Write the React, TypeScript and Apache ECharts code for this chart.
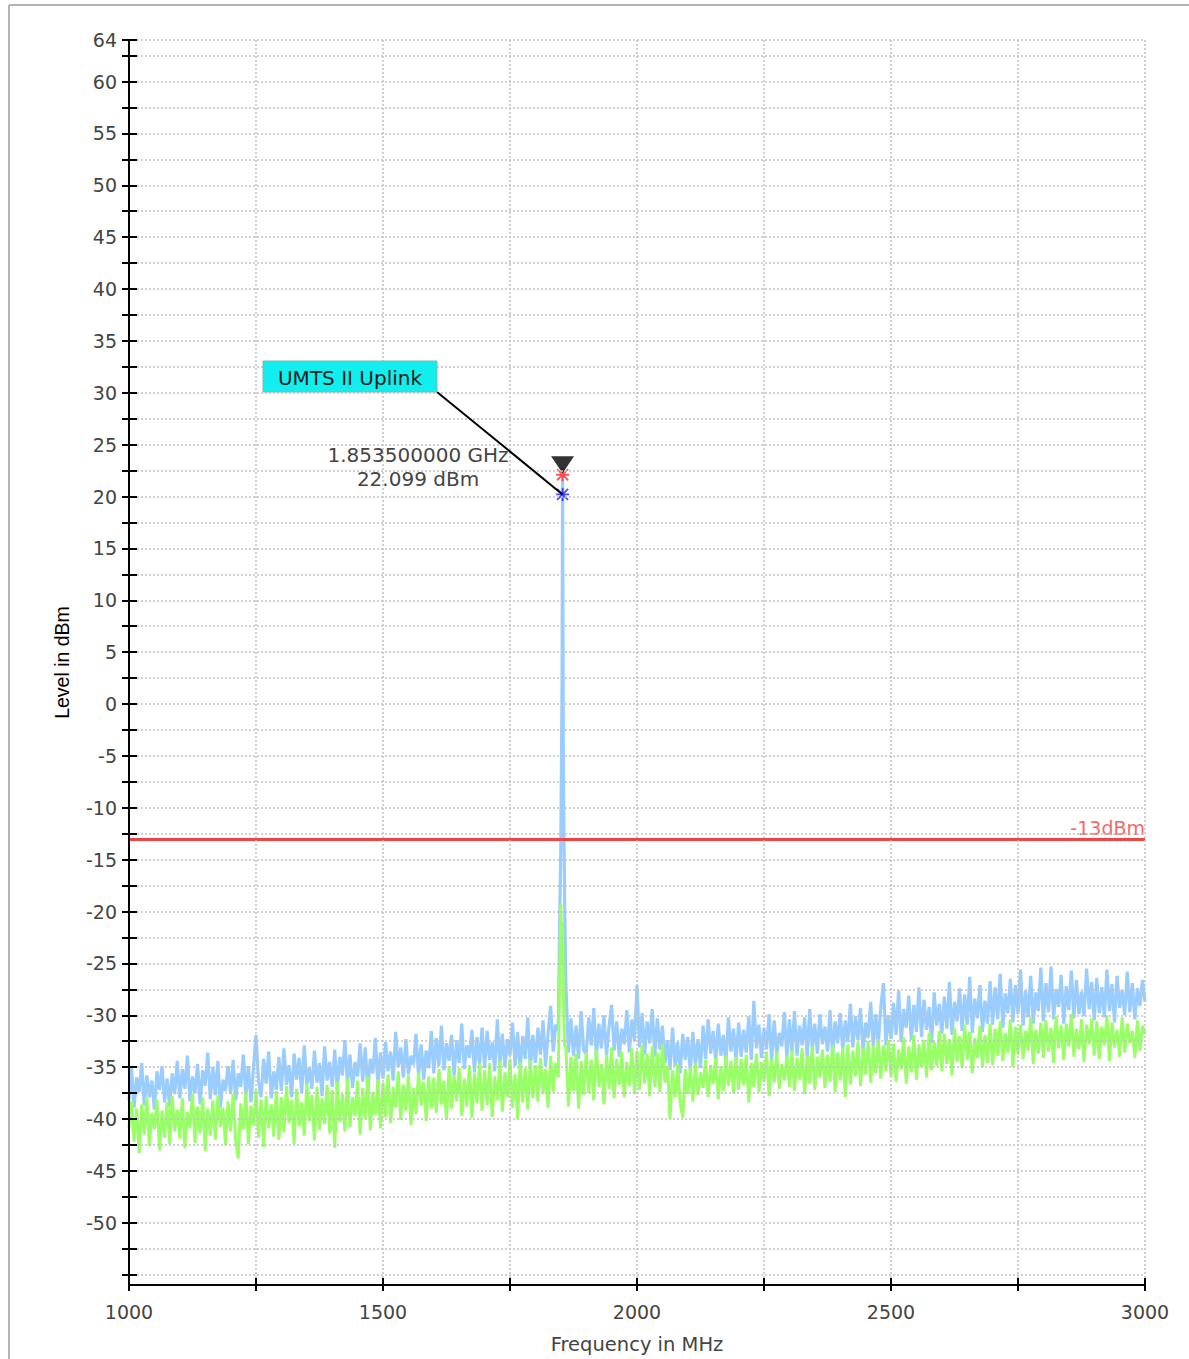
import React, { useEffect, useRef } from "react";
import * as echarts from "echarts";

// ---------- data ----------
const FREQ_START = 1000; // MHz, first sweep point
const FREQ_STEP = 5; // MHz between sweep points

// Trace 1 (light blue), dBm, one value per sweep point 1000..3000 MHz
const BLUE_TRACE = [
  -38.2, -35.1, -38.9, -36.0, -37.4, -34.6, -38.7, -35.8, -37.9, -36.3, -39.1, -35.4, -37.2, -34.9, -38.4, -36.1, -38.8, -35.6, -37.6, -34.4,
  -38.0, -35.2, -37.1, -33.9, -38.3, -35.9, -37.5, -34.7, -38.6, -35.3, -36.8, -33.6, -38.1, -35.0, -37.7, -34.4, -38.9, -36.2, -37.3, -34.9,
  -37.6, -34.3, -38.2, -35.6, -36.9, -33.8, -37.8, -34.9, -38.4, -35.1, -31.9, -36.4, -37.9, -34.2, -36.6, -33.5, -38.0, -35.4, -37.2, -34.0,
  -37.3, -33.2, -36.7, -34.8, -37.9, -33.7, -36.2, -34.1, -37.5, -32.9, -36.8, -35.0, -37.1, -33.4, -36.5, -34.6, -37.8, -33.0, -36.3, -34.5,
  -36.9, -33.3, -37.2, -34.0, -35.8, -32.4, -36.6, -33.8, -37.0, -34.5, -35.9, -32.7, -36.4, -33.1, -37.3, -34.2, -35.6, -32.2, -36.8, -33.6,
  -36.1, -32.6, -35.4, -33.5, -36.3, -31.6, -35.0, -33.1, -36.0, -32.3, -35.7, -33.9, -34.8, -31.8, -35.9, -32.8, -36.2, -33.4, -35.1, -31.5,
  -35.6, -32.2, -34.9, -31.0, -35.3, -32.7, -34.4, -31.9, -35.8, -32.4, -34.6, -30.8, -35.2, -32.9, -34.1, -31.4, -35.5, -32.1, -34.7, -31.2,
  -35.1, -31.5, -34.3, -32.6, -35.4, -30.4, -34.8, -31.8, -35.0, -32.3, -33.9, -30.7, -34.9, -31.6, -35.3, -32.0, -34.2, -30.2, -35.2, -31.9,
  -34.6, -31.2, -33.8, -30.5, -34.9, -31.7, -29.1, -33.5, -30.9, -31.5, -13.8, -6.0, -27.0, -33.6, -30.3, -33.9, -31.0, -34.2, -29.6, -33.4,
  -33.7, -30.2, -32.9, -29.3, -34.1, -30.8, -33.2, -30.0, -33.9, -31.1, -29.0, -33.4, -30.6, -34.0, -31.3, -32.8, -29.5, -33.6, -30.4, -32.5,
  -27.1, -33.1, -29.8, -33.8, -30.6, -32.7, -29.4, -34.0, -30.3, -33.3, -31.0, -34.6, -32.4, -35.3, -31.2, -34.9, -32.6, -35.6, -31.8, -34.3,
  -32.1, -35.4, -31.6, -34.8, -32.3, -35.1, -31.0, -34.2, -30.4, -33.7, -31.5, -34.5, -30.8, -33.9, -31.9, -34.7, -30.2, -33.5, -31.3, -34.4,
  -30.7, -34.0, -31.4, -33.6, -30.1, -34.3, -28.6, -33.2, -30.9, -34.1, -31.2, -33.3, -29.9, -34.4, -30.5, -33.8, -31.7, -33.0, -29.7, -34.2,
  -30.4, -33.6, -29.6, -33.9, -31.0, -32.9, -30.2, -34.1, -29.4, -33.3, -30.8, -33.7, -29.9, -32.8, -31.1, -33.5, -29.5, -34.0, -30.6, -32.7,
  -29.8, -33.4, -30.5, -32.6, -28.9, -33.1, -30.1, -32.4, -29.3, -33.6, -30.7, -32.2, -28.7, -33.0, -29.9, -32.8, -29.2, -26.9, -32.9, -30.0,
  -32.3, -28.8, -31.9, -27.6, -32.6, -29.4, -31.2, -28.1, -32.4, -29.0, -31.6, -27.3, -32.1, -28.5, -31.4, -29.2, -32.7, -27.8, -31.0, -28.9,
  -31.8, -28.2, -31.3, -26.8, -31.9, -28.7, -30.6, -27.4, -31.5, -28.0, -30.9, -26.3, -31.7, -28.4, -30.3, -27.1, -31.6, -28.6, -30.8, -26.7,
  -30.9, -27.3, -30.4, -26.0, -31.2, -27.9, -29.8, -26.5, -30.7, -27.1, -29.9, -25.6, -31.0, -27.6, -30.2, -26.2, -30.8, -27.8, -29.6, -25.4,
  -30.6, -26.9, -29.7, -25.3, -30.4, -27.5, -29.2, -26.1, -30.8, -27.2, -29.5, -25.7, -30.3, -26.6, -29.9, -27.7, -30.1, -25.5, -29.4, -26.8,
  -30.5, -26.4, -29.8, -27.3, -30.2, -25.6, -29.6, -27.0, -30.7, -26.2, -29.3, -27.6, -30.0, -25.8, -29.7, -26.9, -30.4, -27.4, -29.1, -26.6,
  -28.7,
];

// Trace 2 (light green), dBm, same sweep points
const GREEN_TRACE = [
  -40.8, -38.3, -42.2, -39.0, -43.3, -38.6, -41.5, -37.9, -42.6, -39.4, -41.0, -38.1, -43.0, -39.2, -41.8, -38.4, -42.4, -37.8, -41.2, -39.1,
  -41.9, -38.0, -42.8, -39.3, -40.9, -37.6, -42.3, -38.8, -41.4, -37.9, -43.1, -39.0, -41.6, -38.2, -42.0, -37.7, -40.8, -38.9, -42.5, -38.3,
  -41.2, -37.6, -42.1, -43.8, -38.5, -41.0, -37.4, -42.4, -38.7, -40.6, -37.2, -41.8, -38.1, -42.7, -37.8, -40.9, -38.6, -41.7, -37.3, -42.0,
  -37.9, -41.3, -36.8, -40.4, -38.2, -42.4, -37.1, -40.7, -38.4, -41.6, -36.6, -40.2, -37.7, -42.1, -36.9, -41.0, -38.0, -40.5, -36.7, -41.4,
  -37.2, -42.8, -36.4, -40.3, -37.6, -41.2, -36.1, -40.8, -37.9, -39.7, -36.3, -41.5, -37.0, -40.0, -35.9, -41.1, -37.4, -39.6, -36.2, -40.9,
  -36.5, -39.8, -35.7, -40.4, -36.9, -38.9, -35.4, -40.1, -36.7, -39.2, -35.8, -40.6, -37.0, -39.5, -35.5, -38.7, -36.4, -40.2, -35.9, -39.0,
  -36.0, -39.4, -35.2, -38.6, -36.3, -40.1, -34.9, -39.0, -35.8, -38.3, -35.1, -39.7, -36.1, -38.8, -34.8, -39.9, -35.6, -38.5, -34.7, -39.2,
  -35.3, -38.7, -34.6, -39.8, -35.9, -38.2, -34.4, -39.3, -35.5, -37.9, -34.2, -38.9, -35.7, -40.0, -34.5, -38.4, -35.1, -39.1, -34.3, -38.0,
  -34.8, -38.3, -34.1, -37.6, -35.2, -38.9, -33.9, -37.4, -34.6, -36.0, -19.3, -28.0, -33.0, -38.8, -34.0, -37.3, -33.7, -39.0, -34.4, -37.7,
  -33.6, -37.5, -34.3, -38.2, -33.3, -36.9, -34.7, -38.6, -33.8, -37.1, -33.1, -38.0, -34.2, -36.7, -33.5, -37.9, -34.5, -36.8, -33.2, -37.6,
  -33.4, -37.2, -32.9, -36.6, -33.7, -37.8, -33.0, -36.9, -33.6, -37.4, -32.8, -36.5, -34.9, -40.0, -35.3, -37.9, -34.7, -38.4, -39.9, -35.2,
  -37.6, -35.0, -38.3, -34.6, -37.7, -35.5, -37.0, -34.3, -37.9, -34.8, -36.6, -34.1, -38.1, -34.9, -37.3, -33.9, -36.8, -34.4, -37.5, -34.0,
  -37.2, -34.2, -36.7, -33.8, -38.4, -34.6, -36.9, -33.7, -37.4, -34.5, -36.4, -33.5, -37.8, -34.3, -36.5, -33.6, -37.1, -34.7, -36.3, -33.9,
  -36.9, -33.4, -37.3, -34.1, -36.2, -33.2, -37.6, -33.9, -36.6, -33.0, -37.2, -34.0, -36.0, -33.3, -37.0, -33.8, -36.4, -32.9, -37.4, -33.6,
  -36.3, -33.1, -37.9, -32.8, -36.7, -33.4, -35.9, -32.6, -36.8, -33.2, -35.7, -32.5, -36.5, -33.0, -35.6, -32.3, -36.1, -32.9, -35.4, -32.4,
  -35.9, -32.7, -36.4, -33.3, -35.2, -32.1, -36.6, -33.0, -35.5, -31.9, -36.2, -32.8, -35.0, -32.4, -36.0, -31.7, -35.3, -32.6, -34.9, -31.5,
  -35.4, -31.8, -34.7, -32.3, -35.8, -31.2, -34.5, -32.0, -35.1, -30.9, -34.3, -31.6, -35.6, -32.2, -34.1, -31.0, -35.0, -31.9, -34.6, -30.8,
  -34.8, -31.3, -33.9, -30.6, -34.4, -31.7, -33.6, -30.4, -35.0, -31.1, -33.8, -30.9, -34.2, -31.5, -33.4, -30.2, -34.7, -31.4, -33.7, -30.7,
  -34.1, -30.5, -33.5, -31.2, -34.6, -30.1, -33.2, -31.0, -34.3, -30.8, -33.0, -29.9, -34.0, -31.3, -33.3, -30.4, -34.5, -30.9, -32.8, -30.3,
  -33.9, -30.6, -34.2, -31.1, -32.9, -30.0, -34.4, -30.7, -33.1, -31.4, -34.0, -30.2, -33.6, -30.8, -32.7, -31.5, -34.1, -30.5, -33.4, -31.0,
  -31.8,
];

// extra sweep points around the carrier (MHz) and their levels (dBm)
const PEAK_FREQS = [1847.5, 1852.5, 1853.5, 1857.5];
const BLUE_PEAK = [-22.0, 2.0, 22.099, -19.0];
const GREEN_PEAK = [-27.0, -25.0, -21.0, -33.0];

const MARKER_FREQ = 1853.5; // MHz
const MARKER_LEVEL = 22.099; // dBm (red marker)
const TRACE_MARK_LEVEL = 20.2; // dBm (blue marker)
const MARKER_TEXT = ["1.853500000 GHz", "22.099 dBm"];
const MARKER_NAME = "UMTS II Uplink";

const LIMIT_DBM = -13;
const LIMIT_LABEL = "-13dBm";

const Y_LABELS = [-50, -45, -40, -35, -30, -25, -20, -15, -10, -5, 0, 5, 10, 15, 20, 25, 30, 35, 40, 45, 50, 55, 60, 64];
const Y_TICKS = [
  -55, -52.5, -50, -47.5, -45, -42.5, -40, -37.5, -35, -32.5, -30, -27.5, -25, -22.5, -20, -17.5, -15, -12.5, -10, -7.5, -5, -2.5,
  0, 2.5, 5, 7.5, 10, 12.5, 15, 17.5, 20, 22.5, 25, 27.5, 30, 32.5, 35, 37.5, 40, 42.5, 45, 47.5, 50, 52.5, 55, 57.5, 60, 62.5, 64,
];
const X_LABELS = [1000, 1500, 2000, 2500, 3000];

// ---------- helpers ----------
const FONT = "DejaVu Sans";
const ASTERISK =
  "path://M8.6 0L11.4 0L11.4 20L8.6 20Z M0 8.6L20 8.6L20 11.4L0 11.4Z M2.5 0.5L19.5 17.5L17.5 19.5L0.5 2.5Z M17.5 0.5L19.5 2.5L2.5 19.5L0.5 17.5Z";

function buildTrace(values: number[], peak: number[]) {
  const pts: number[][] = values.map((v, i) => [FREQ_START + i * FREQ_STEP, v]);
  PEAK_FREQS.forEach((f, i) => pts.push([f, peak[i]]));
  pts.sort((a, b) => a[0] - b[0]);
  return pts;
}

export default function App() {
  const ref = useRef<HTMLDivElement>(null);

  useEffect(() => {
    if (!ref.current) return;
    const chart = echarts.init(ref.current, null, { renderer: "svg" });
    const dotted = { color: "#c2c2c2", width: 1.5, type: [2, 2] as number[] };

    const option: any = {
      animation: false,
      backgroundColor: "#ffffff",
      grid: { left: 129, right: 44, top: 40, bottom: 72, containLabel: false },
      xAxis: [
        {
          type: "value",
          min: 1000,
          max: 3000,
          interval: 250,
          position: "bottom",
          z: 10,
          name: "Frequency in MHz",
          nameLocation: "middle",
          nameGap: 49,
          nameTextStyle: { fontFamily: FONT, fontSize: 19.5, color: "#444" },
          axisLine: { show: true, onZero: false, lineStyle: { color: "#000", width: 2 } },
          axisTick: { show: true, inside: false, length: 6, lineStyle: { color: "#000", width: 2 } },
          axisLabel: {
            customValues: X_LABELS,
            formatter: (v: number) => String(v),
            margin: 17,
            fontFamily: FONT,
            fontSize: 19,
            color: "#444",
          },
          splitLine: { show: true, lineStyle: dotted },
        },
        {
          type: "value",
          min: 1000,
          max: 3000,
          interval: 250,
          position: "bottom",
          z: 10,
          axisLine: { show: false, onZero: false },
          axisTick: { show: true, inside: true, length: 7, lineStyle: { color: "#000", width: 2 } },
          axisLabel: { show: false },
          splitLine: { show: false },
        },
      ],
      yAxis: [
        {
          type: "value",
          min: -56,
          max: 64,
          position: "left",
          z: 10,
          name: "Level in dBm",
          nameLocation: "middle",
          nameGap: 57,
          nameTextStyle: { fontFamily: "Liberation Sans", fontSize: 19.5, color: "#000" },
          axisLine: { show: true, onZero: false, lineStyle: { color: "#000", width: 2 } },
          axisTick: { show: true, inside: false, length: 7, customValues: Y_TICKS, lineStyle: { color: "#000", width: 2 } },
          axisLabel: { customValues: Y_LABELS, margin: 12, fontFamily: FONT, fontSize: 19, color: "#444" },
          splitLine: { show: true, lineStyle: dotted },
        },
        {
          type: "value",
          min: -56,
          max: 64,
          position: "left",
          z: 10,
          axisLine: { show: false, onZero: false },
          axisTick: { show: true, inside: true, length: 8, customValues: Y_TICKS, lineStyle: { color: "#000", width: 2 } },
          axisLabel: { show: false },
          splitLine: { show: false },
        },
      ],
      series: [
        {
          name: "Trace 1",
          type: "line",
          xAxisIndex: 0,
          yAxisIndex: 0,
          data: buildTrace(BLUE_TRACE, BLUE_PEAK),
          showSymbol: false,
          symbol: "none",
          z: 2,
          lineStyle: { color: "#99ccff", width: 3.2, join: "bevel" },
          silent: true,
        },
        {
          name: "Trace 2",
          type: "line",
          xAxisIndex: 0,
          yAxisIndex: 0,
          data: buildTrace(GREEN_TRACE, GREEN_PEAK),
          showSymbol: false,
          symbol: "none",
          z: 3,
          lineStyle: { color: "#99ff66", width: 3, join: "bevel" },
          silent: true,
          markLine: {
            silent: true,
            symbol: ["none", "none"],
            lineStyle: { color: "#ee4444", width: 3, type: "solid" },
            label: {
              show: true,
              position: "insideEndTop",
              formatter: LIMIT_LABEL,
              color: "#f06a6a",
              fontFamily: FONT,
              fontSize: 19,
              distance: [0, 1],
            },
            data: [{ yAxis: LIMIT_DBM }],
          },
        },
        {
          name: "Trace marker",
          type: "scatter",
          data: [[MARKER_FREQ, TRACE_MARK_LEVEL]],
          symbol: ASTERISK,
          symbolSize: 13,
          itemStyle: { color: "#1f1fff" },
          z: 6,
          silent: true,
        },
        {
          name: "Marker",
          type: "scatter",
          data: [[MARKER_FREQ, MARKER_LEVEL]],
          symbol: ASTERISK,
          symbolSize: 13,
          itemStyle: { color: "#ff2a2a" },
          z: 6,
          silent: true,
        },
        {
          name: "Marker flag",
          type: "scatter",
          data: [[MARKER_FREQ, MARKER_LEVEL]],
          symbol: "triangle",
          symbolRotate: 180,
          symbolSize: [23, 17],
          symbolOffset: [0, -10],
          itemStyle: { color: "#000" },
          z: 7,
          silent: true,
        },
      ],
    };
    chart.setOption(option);

    const p = chart.convertToPixel({ gridIndex: 0 }, [MARKER_FREQ, TRACE_MARK_LEVEL]) as number[];
    const box = { x: 263, y: 361, w: 174, h: 31 };
    chart.setOption({
      graphic: [
        { type: "line", shape: { x1: 9, y1: 5, x2: 1189, y2: 5 }, style: { stroke: "#b4b4b4", lineWidth: 2 }, silent: true },
        { type: "line", shape: { x1: 9, y1: 5, x2: 9, y2: 1359 }, style: { stroke: "#b4b4b4", lineWidth: 2 }, silent: true },
        {
          type: "line",
          z: 20,
          shape: { x1: box.x + box.w, y1: box.y + box.h, x2: p[0], y2: p[1] },
          style: { stroke: "#000", lineWidth: 2 },
          silent: true,
        },
        {
          type: "rect",
          z: 21,
          shape: { x: box.x, y: box.y, width: box.w, height: box.h },
          style: { fill: "#12eeee", stroke: "#86b5b5", lineWidth: 1 },
          silent: true,
        },
        {
          type: "text",
          z: 22,
          x: box.x + box.w / 2,
          y: box.y + box.h / 2 + 1,
          style: {
            text: MARKER_NAME,
            fill: "#1a1a1a",
            font: `20px "${FONT}"`,
            textAlign: "center",
            textVerticalAlign: "middle",
          },
          silent: true,
        },
        {
          type: "text",
          z: 22,
          x: 418,
          y: 455,
          style: { text: MARKER_TEXT[0], fill: "#444", font: `20px "${FONT}"`, textAlign: "center", textVerticalAlign: "middle" },
          silent: true,
        },
        {
          type: "text",
          z: 22,
          x: 418,
          y: 479,
          style: { text: MARKER_TEXT[1], fill: "#444", font: `20px "${FONT}"`, textAlign: "center", textVerticalAlign: "middle" },
          silent: true,
        },
      ],
    });

    return () => chart.dispose();
  }, []);

  return (
    <div style={{ position: "fixed", left: 0, top: 0, width: 1189, height: 1359, background: "#fff" }}>
      <div ref={ref} style={{ width: 1189, height: 1359 }} />
    </div>
  );
}
